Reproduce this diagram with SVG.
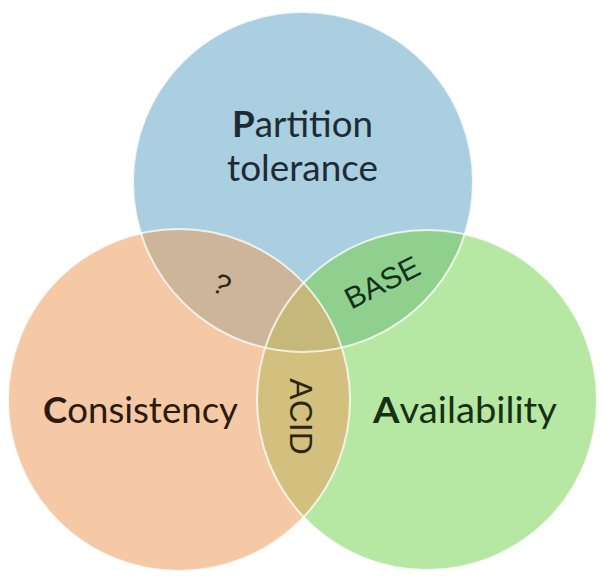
<svg xmlns="http://www.w3.org/2000/svg" width="604" height="579" viewBox="0 0 604 579">
  <style>
    .lbl { font-family: Lato, "Open Sans", "Liberation Sans", sans-serif; font-size: 36px; }
    .small { font-family: "Liberation Sans", Arial, sans-serif; text-anchor: middle; }
    .rim { fill: none; stroke: #ffffff; stroke-width: 2; stroke-opacity: 0.75; }
  </style>
  <defs>
    <clipPath id="cBlue"><circle cx="303" cy="182" r="170"/></clipPath>
    <clipPath id="cOrange"><circle cx="179" cy="400" r="171"/></clipPath>
  </defs>
  <rect width="604" height="579" fill="#ffffff"/>

  <g id="partition">
    <circle cx="303" cy="182" r="170" fill="#a9cfe0"/>
  </g>
  <g id="consistency">
    <circle cx="179" cy="400" r="171" fill="#f5c9a5"/>
  </g>
  <g id="availability">
    <circle cx="427" cy="400" r="170" fill="#b6e8a4"/>
  </g>

  <g id="overlap-pc">
    <circle cx="179" cy="400" r="171" fill="#cdb59a" clip-path="url(#cBlue)"/>
  </g>
  <g id="overlap-pa">
    <circle cx="427" cy="400" r="170" fill="#8fd08e" clip-path="url(#cBlue)"/>
  </g>
  <g id="overlap-ca">
    <circle cx="427" cy="400" r="170" fill="#d3bf7e" clip-path="url(#cOrange)"/>
  </g>
  <g id="overlap-all" clip-path="url(#cBlue)">
    <circle cx="427" cy="400" r="170" fill="#c6b878" clip-path="url(#cOrange)"/>
  </g>

  <g id="rims">
    <circle class="rim" cx="303" cy="182" r="170"/>
    <circle class="rim" cx="179" cy="400" r="171"/>
    <circle class="rim" cx="427" cy="400" r="170"/>
  </g>

  <g id="labels">
    <text class="lbl" x="232" y="137" textLength="141" lengthAdjust="spacingAndGlyphs" fill="#1f2b34"><tspan font-weight="bold">P</tspan>artition</text>
    <text class="lbl" x="227" y="181" textLength="151" lengthAdjust="spacingAndGlyphs" fill="#1f2b34">tolerance</text>
    <text class="lbl" x="43" y="423" textLength="195" lengthAdjust="spacingAndGlyphs" fill="#2a1a10"><tspan font-weight="bold">C</tspan>onsistency</text>
    <text class="lbl" x="373" y="423" textLength="184" lengthAdjust="spacingAndGlyphs" fill="#173015"><tspan font-weight="bold">A</tspan>vailability</text>
  </g>

  <g id="region-labels">
    <g transform="translate(382,282) rotate(-27)">
      <text class="small" x="0" y="10.7" font-size="30" fill="#15301a">BASE</text>
    </g>
    <g transform="translate(301.5,416.5) rotate(90)">
      <text class="small" x="0" y="11.5" font-size="32" fill="#2b2612">ACID</text>
    </g>
    <g transform="translate(222,284) rotate(28)">
      <text class="small" x="0" y="10.5" font-size="29" fill="#2b2418">?</text>
    </g>
  </g>
</svg>
